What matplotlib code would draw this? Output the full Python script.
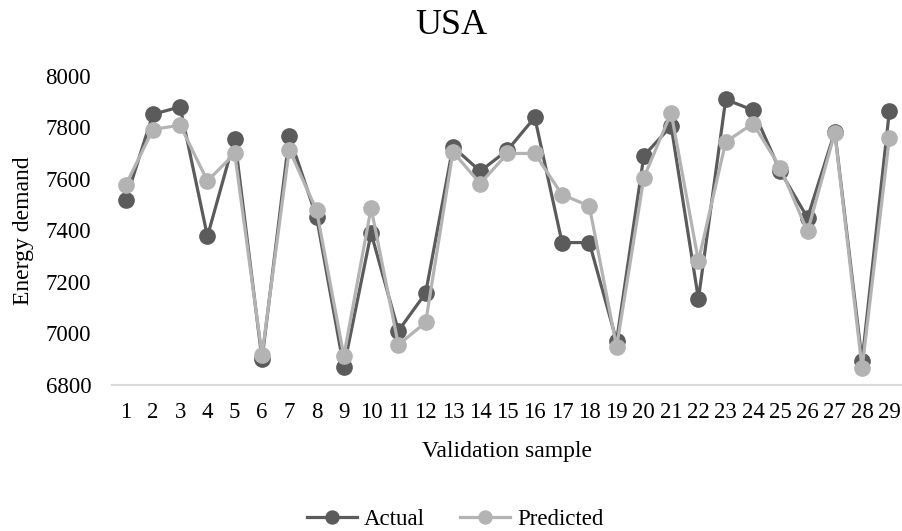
import matplotlib
matplotlib.use("Agg")
import matplotlib.pyplot as plt
import numpy as np

plt.rcParams['font.family'] = ['Liberation Serif', 'DejaVu Serif']

samples = list(range(1, 30))
actual = [7517, 7851, 7880, 7377, 7757, 6900, 7766, 7452, 6868, 7390,
          7010, 7157, 7725, 7630, 7712, 7839, 7353, 7353, 6971, 7690,
          7806, 7134, 7909, 7867, 7630, 7449, 7783, 6893, 7864]
predicted = [7575, 7792, 7809, 7592, 7699, 6917, 7714, 7478, 6913, 7487,
             6956, 7043, 7705, 7582, 7699, 7699, 7539, 7495, 6948, 7605,
             7857, 7281, 7744, 7815, 7644, 7396, 7780, 6865, 7760]
y_ticks = [6800, 7000, 7200, 7400, 7600, 7800, 8000]

dark = '#5b5b5b'
light = '#b3b3b3'

fig = plt.figure(figsize=(9.03, 5.31), dpi=100)
ax = fig.add_axes([0.124, 0.275, 0.876, 0.582])

x = np.array(samples)
ax.plot(x, actual, color=dark, lw=2.3, marker='o', ms=11, label='Actual')
ax.plot(x, predicted, color=light, lw=2.3, marker='o', ms=11, label='Predicted')

ax.set_xlim(0.5, 29.5)
ax.set_ylim(6800, 8000)
ax.set_xticks(x)
ax.set_xticklabels([str(s) for s in samples])
ax.set_yticks(y_ticks)
ax.tick_params(length=0, labelsize=16.5, colors='black')
ax.tick_params(axis='x', pad=12)
ax.tick_params(axis='y', pad=15)

for side in ['top', 'right', 'left']:
    ax.spines[side].set_visible(False)
ax.spines['bottom'].set_color('#d9d9d9')
ax.spines['bottom'].set_linewidth(1.5)

ax.set_ylabel('Energy demand', fontsize=17, labelpad=8)
fig.text(0.561, 1 - 451 / 531, 'Validation sample', fontsize=17,
         ha='center', va='center')
fig.text(0.5, 1 - 25 / 531, 'USA', fontsize=26, ha='center', va='center')

fig.legend(loc='center', bbox_to_anchor=(0.504, 1 - 519 / 531), ncol=2,
           frameon=False, fontsize=16.5, handlelength=2.2, markerscale=0.85,
           columnspacing=1.5, handletextpad=0.3)

fig.savefig('out.png', dpi=100)
